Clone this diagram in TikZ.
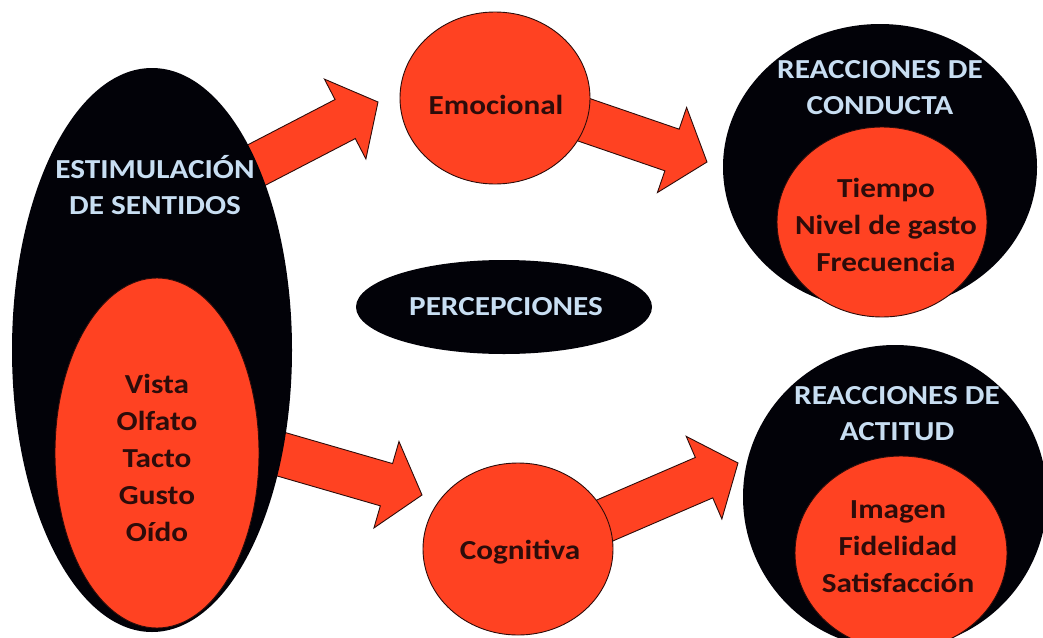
\documentclass[tikz,border=0pt]{standalone}
\usepackage{fontspec}
\setmainfont{Carlito}
\usetikzlibrary{shapes.geometric,calc}
\definecolor{rd}{RGB}{255,66,34}
\definecolor{bl}{RGB}{200,222,242}
\definecolor{dk}{RGB}{45,12,10}
\definecolor{blk}{RGB}{2,2,8}
\tikzset{
  blackshape/.style={ellipse, fill=blk, draw=none, inner sep=0pt},
  redshape/.style={ellipse, fill=rd, draw=dk, line width=0.9pt, inner sep=0pt},
  bluetext/.style={text=bl, font=\bfseries\fontsize{27.5}{36}\selectfont, align=center, inner sep=0pt},
  redtext/.style={text=dk, font=\bfseries\fontsize{27.5}{37}\selectfont, align=center, inner sep=0pt},
  blockarrow/.style={fill=rd, draw=dk, line width=0.9pt, line join=miter},
}
\newcommand\wide[1]{\scalebox{1.135}[1]{#1}}
\newcommand\blockarr[2]{%
  \coordinate (bH) at ($(#2)!37pt!(#1)$);
  \draw[blockarrow] ($(#1)!22pt!90:(#2)$) -- ($(bH)!22pt!-90:(#1)$) -- ($(bH)!45pt!-90:(#1)$)
    -- (#2) -- ($(bH)!45pt!90:(#1)$) -- ($(bH)!22pt!90:(#1)$) -- ($(#1)!22pt!-90:(#2)$) -- cycle;}
\begin{document}
\begin{tikzpicture}[x=1pt,y=-1pt]
\useasboundingbox (0,0) rectangle (1043,637);
% arrow end points
\coordinate (a1s) at (247,170); \coordinate (a1e) at (378,102);
\coordinate (a2s) at (570,115); \coordinate (a2e) at (707,162);
\coordinate (a3s) at (270,451); \coordinate (a3e) at (422,495);
\coordinate (a4s) at (592,526); \coordinate (a4e) at (738,463);
\blockarr{a1s}{a1e}
\blockarr{a2s}{a2e}
\blockarr{a3s}{a3e}
\blockarr{a4s}{a4e}
% shapes
\node[blackshape, minimum width=280pt, minimum height=564pt] (sent) at (152,350) {};
\node[redshape, minimum width=204pt, minimum height=350pt] (sentin) at (157,453) {};
\node[redshape, minimum width=190pt, minimum height=172pt] (emo) at (495,98) {};
\node[redshape, minimum width=190pt, minimum height=172pt] (cog) at (518,549) {};
\node[blackshape, minimum width=296pt, minimum height=94pt] (perc) at (504,307) {};
\node[blackshape, minimum width=314pt, minimum height=286pt] (cond) at (880,167) {};
\node[redshape, minimum width=210pt, minimum height=190pt] (condin) at (882,222) {};
\node[blackshape, minimum width=304pt, minimum height=304pt] (act) at (895,497) {};
\node[redshape, minimum width=212pt, minimum height=194pt] (actin) at (901,553) {};
% texts
\node[bluetext] (tsent) at (155,185) {\wide{ESTIMULACIÓN}\\\wide{DE SENTIDOS}};
\node[redtext] (tsentin) at (157,458) {\wide{Vista}\\\wide{Olfato}\\\wide{Tacto}\\\wide{Gusto}\\\wide{Oído}};
\node[redtext] (temo) at (496,105) {\wide{Emocional}};
\node[redtext] (tcog) at (520,552) {\wide{Cognitiva}};
\node[bluetext] (tperc) at (506,307) {\wide{PERCEPCIONES}};
\node[bluetext] (tcond) at (880,88) {\wide{REACCIONES DE}\\\wide{CONDUCTA}};
\node[redtext] (tcondin) at (886,225) {\wide{Tiempo}\\\wide{Nivel de gasto}\\\wide{Frecuencia}};
\node[bluetext] (tact) at (897,414) {\wide{REACCIONES DE}\\\wide{ACTITUD}};
\node[redtext] (tactin) at (898,547) {\wide{Imagen}\\\wide{Fidelidad}\\\wide{Satisfacción}};
\end{tikzpicture}
\end{document}
